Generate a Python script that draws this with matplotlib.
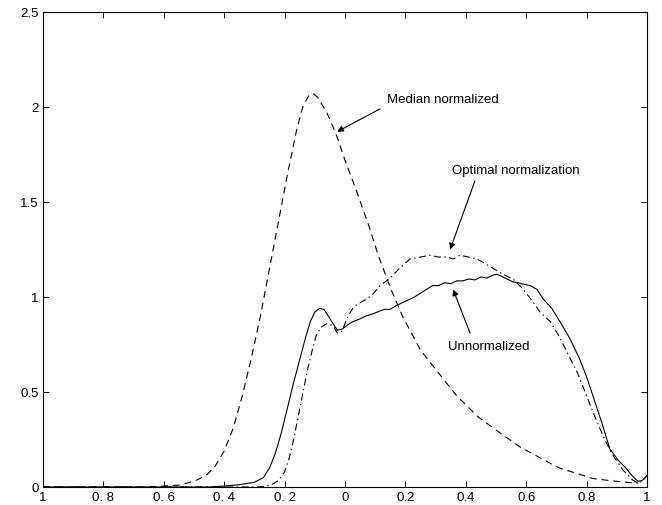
import matplotlib
matplotlib.use("Agg")
import matplotlib.pyplot as plt

# density estimates for the three normalization schemes
medianX = [-1.0, -0.8, -0.65, -0.55, -0.5, -0.46, -0.43, -0.4, -0.37, -0.34, -0.31, -0.28,
           -0.25, -0.22, -0.19, -0.16, -0.14, -0.12, -0.105, -0.09, -0.06, -0.03, 0.0, 0.04,
           0.08, 0.11, 0.15, 0.19, 0.25, 0.31, 0.37, 0.44, 0.5, 0.58, 0.65, 0.71, 0.77, 0.82,
           0.87, 0.93, 0.97]
medianY = [0.0, 0.0, 0.0, 0.01, 0.03, 0.06, 0.11, 0.19, 0.31, 0.48, 0.68, 0.9,
           1.15, 1.4, 1.65, 1.88, 2.0, 2.06, 2.07, 2.05, 1.97, 1.86, 1.72, 1.55,
           1.37, 1.22, 1.05, 0.9, 0.72, 0.6, 0.48, 0.37, 0.3, 0.21, 0.15, 0.1, 0.07, 0.045,
           0.035, 0.025, 0.02]

rawX = [-1.0, -0.6, -0.45, -0.4, -0.35, -0.3, -0.27, -0.25, -0.23, -0.21, -0.19, -0.17,
        -0.15, -0.13, -0.115, -0.1, -0.085, -0.07, -0.055, -0.04, -0.025, -0.01, 0.01, 0.026,
        0.05, 0.07, 0.09, 0.106, 0.13, 0.15, 0.17, 0.19, 0.21, 0.23, 0.25, 0.27, 0.29, 0.31,
        0.33, 0.35, 0.37, 0.39, 0.41, 0.43, 0.45, 0.47, 0.49, 0.503, 0.53, 0.556, 0.585,
        0.613, 0.636, 0.656, 0.685, 0.712, 0.745, 0.778, 0.8, 0.821, 0.85, 0.877, 0.905,
        0.93, 0.95, 0.97, 0.985, 1.0]
rawY = [0.0, 0.0, 0.0, 0.005, 0.012, 0.025, 0.05, 0.1, 0.18, 0.29, 0.42, 0.55,
        0.67, 0.79, 0.87, 0.92, 0.94, 0.935, 0.9, 0.86, 0.825, 0.83, 0.855, 0.87,
        0.885, 0.9, 0.91, 0.92, 0.935, 0.935, 0.955, 0.97, 0.985, 1.0, 1.02, 1.04, 1.06, 1.06,
        1.075, 1.07, 1.085, 1.085, 1.095, 1.09, 1.105, 1.1, 1.115, 1.12, 1.1, 1.08, 1.07,
        1.06, 1.04, 0.99, 0.94, 0.87, 0.78, 0.67, 0.58, 0.48, 0.34, 0.2, 0.14,
        0.1, 0.06, 0.03, 0.035, 0.06]

optX = [-1.0, -0.5, -0.3, -0.27, -0.24, -0.22, -0.2, -0.185, -0.17, -0.155, -0.14, -0.125,
        -0.11, -0.095, -0.08, -0.06, -0.04, -0.025, -0.01, 0.01, 0.03, 0.05, 0.073, 0.095,
        0.116, 0.15, 0.18, 0.215, 0.25, 0.281, 0.31, 0.338, 0.36, 0.38, 0.41, 0.437, 0.46,
        0.48, 0.523, 0.56, 0.59, 0.62, 0.646, 0.68, 0.71, 0.735, 0.77, 0.8, 0.83, 0.86,
        0.89, 0.92, 0.95, 0.97, 0.985, 1.0]
optY = [0.0, 0.0, 0.0, 0.003, 0.015, 0.035, 0.08, 0.15, 0.25, 0.37, 0.49, 0.61,
        0.71, 0.8, 0.84, 0.86, 0.85, 0.81, 0.82, 0.9, 0.95, 0.97, 0.99, 1.02,
        1.06, 1.1, 1.15, 1.2, 1.21, 1.22, 1.21, 1.21, 1.2, 1.22, 1.21, 1.2, 1.18,
        1.16, 1.12, 1.09, 1.04, 0.98, 0.92, 0.87, 0.79, 0.71, 0.6, 0.48, 0.36, 0.25,
        0.16, 0.09, 0.04, 0.02, 0.03, 0.06]

xTicks = [-1.0, -0.8, -0.6, -0.4, -0.2, 0.0, 0.2, 0.4, 0.6, 0.8, 1.0]
xTickLabels = ["1", "0. 8", "0. 6", "0. 4", "0. 2", "0", "0.2", "0.4", "0.6", "0.8", "1"]
yTicks = [0, 0.5, 1, 1.5, 2, 2.5]
yTickLabels = ["0", "0.5", "1", "1.5", "2", "2.5"]

plt.rcParams['font.family'] = ['Liberation Sans', 'DejaVu Sans']
plt.rcParams['lines.scale_dashes'] = False

fig = plt.figure(figsize=(6.62, 5.06), dpi=100)
ax = fig.add_axes([43 / 662, 18 / 506, 604 / 662, 475 / 506])

ax.plot(medianX, medianY, color='black', lw=0.8, dashes=[5, 3.5])
ax.plot(rawX, rawY, color='black', lw=0.8)
ax.plot(optX, optY, color='black', lw=0.8, dashes=[5, 2.5, 1, 2.5])

ax.set_xlim(-1, 1)
ax.set_ylim(0, 2.5)
ax.set_xticks(xTicks)
ax.set_xticklabels(xTickLabels)
ax.set_yticks(yTicks)
ax.set_yticklabels(yTickLabels)
ax.tick_params(direction='in', length=4, width=0.7, labelsize=9.5, pad=3,
               top=True, right=True)
for s in ax.spines.values():
    s.set_linewidth(0.8)

# labels with arrows pointing at each curve
arrow = dict(arrowstyle='-|>', color='black', lw=0.8, mutation_scale=9,
             shrinkA=0, shrinkB=0)
ax.text(0.139, 2.04, "Median normalized", fontsize=9.5, va='center', ha='left')
ax.annotate("", xy=(-0.026, 1.87), xytext=(0.116, 1.99), arrowprops=arrow)
ax.text(0.354, 1.67, "Optimal normalization", fontsize=9.5, va='center', ha='left')
ax.annotate("", xy=(0.348, 1.25), xytext=(0.43, 1.61), arrowprops=arrow)
ax.text(0.341, 0.74, "Unnormalized", fontsize=9.5, va='center', ha='left')
ax.annotate("", xy=(0.358, 1.04), xytext=(0.414, 0.81), arrowprops=arrow)

fig.savefig("out.png", dpi=100)
